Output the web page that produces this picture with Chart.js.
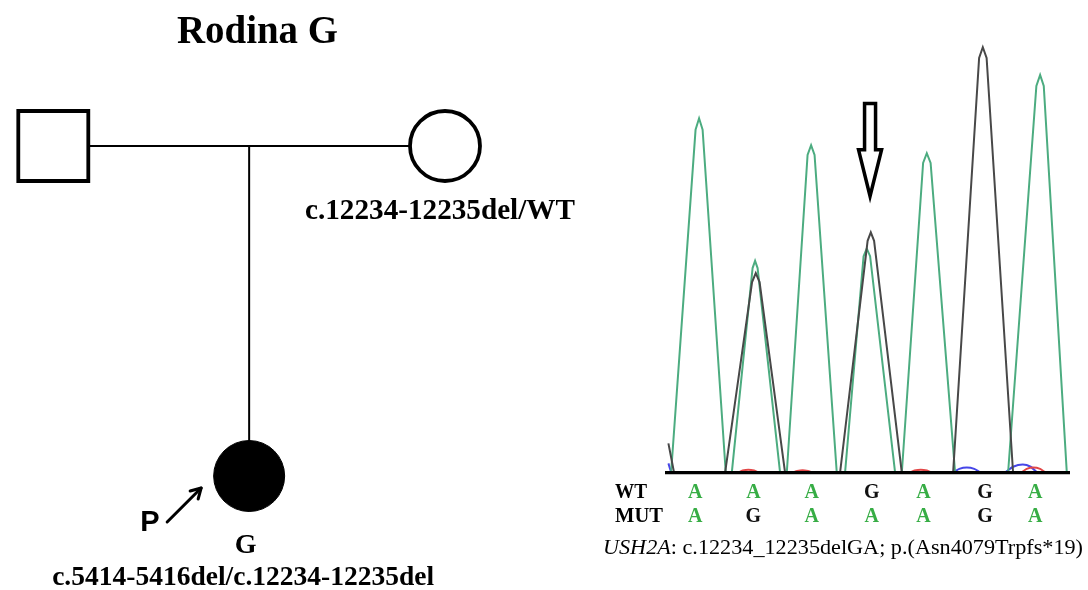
<!DOCTYPE html>
<html><head><meta charset="utf-8">
<script src="https://cdn.jsdelivr.net/npm/chart.js@4.4.1/dist/chart.umd.min.js"></script>
<style>
html,body{margin:0;padding:0;background:#fff;width:1088px;height:590px;overflow:hidden}
#ped{position:absolute;left:0;top:0}
#chr{position:absolute;left:600px;top:0}
</style></head><body>
<canvas id="ped" width="600" height="590"></canvas>
<canvas id="chr" width="488" height="590"></canvas>
<script>
// ---------------- Pedigree data ----------------
const pedTitle = 'Rodina G';
const pedNames = ['father', 'mother', 'proband'];
const pedX = [0, 2, 1];          // position within generation
const pedGen = [1, 1, 2];        // generation
const pedSex = ['M', 'F', 'F'];
const pedAffected = [false, false, true];
const mateLine = [[0, 1], [2, 1]];
const descentLine = [[1, 1], [1, 2]];
const motherGenotype = 'c.12234-12235del/WT';
const probandId = 'G';
const probandGenotype = 'c.5414-5416del/c.12234-12235del';
const probandMarker = 'P';

// ---------------- Chromatogram data ----------------
// x = base position (1..7), y = signal intensity
const traceA = [[0.40,0],[0.507,0],[0.938,806],[1.000,833],[1.062,806],[1.470,0],[1.576,0],[1.942,481],[1.986,498],[2.030,481],[2.426,0],[2.544,0],[2.910,747],[2.972,770],[3.033,747],[3.424,0],[3.570,0],[3.896,509],[3.952,527],[4.011,509],[4.451,0],[4.569,0],[4.944,728],[5.009,751],[5.076,728],[5.507,0],[6.440,0],[6.938,909],[7.004,935],[7.068,909],[7.474,0],[7.53,0]];
const traceG = [[0.46,69],[0.560,0],[1.458,0],[1.933,448],[1.998,469],[2.065,448],[2.514,0],[3.482,0],[3.967,545],[4.023,565],[4.081,545],[4.569,0],[5.472,0],[5.930,975],[5.995,1000],[6.062,975],[6.528,0],[7.53,0]];
const traceT = [[0.40,0],[1.664,0],[1.766,5],[1.868,7],[1.970,5],[2.074,0],[2.632,0],[2.727,4],[2.822,6],[2.917,4],[3.012,0],[4.680,0],[4.792,5],[4.903,7],[5.012,5],[5.120,0],[6.651,0],[6.768,9],[6.886,12],[7.004,9],[7.121,0],[7.53,0]];
const traceC = [[0.46,22],[0.52,0],[5.449,0],[5.581,9],[5.713,12],[5.845,9],[5.977,0],[6.357,0],[6.528,14],[6.699,19],[6.837,14],[6.974,0],[7.53,0]];
const callPos = [0.93, 1.956, 2.984, 4.04, 4.949, 6.035, 6.919];
const wtCalls = ['A','A','A','G','A','G','A'];
const mutCalls = ['A','G','A','A','A','G','A'];
const captionGene = 'USH2A';
const captionRest = ': c.12234_12235delGA; p.(Asn4079Trpfs*19)';
const arrowMark = {x: 4.01, top: 868, neck: 759, tip: 650};

const toXY = arr => arr.map(p => ({x: p[0], y: p[1]}));

function fillFit(ctx, text, x, y, width, align) {
  const w = ctx.measureText(text).width;
  const s = width / w;
  ctx.save();
  ctx.translate(x, y);
  ctx.scale(s, 1);
  ctx.textAlign = 'left';
  ctx.fillText(text, align === 'center' ? -w / 2 : 0, 0);
  ctx.restore();
}

// ---------------- Pedigree chart ----------------
const pedText = {
  id: 'pedText',
  afterDraw(chart) {
    const ctx = chart.ctx, xs = chart.scales.x, ys = chart.scales.y;
    const mx = xs.getPixelForValue(pedX[1]), my = ys.getPixelForValue(pedGen[1]);
    const cx = xs.getPixelForValue(pedX[2]), cy = ys.getPixelForValue(pedGen[2]);
    ctx.save();
    ctx.fillStyle = '#000';
    ctx.textBaseline = 'alphabetic';
    ctx.font = 'bold 39px "Liberation Serif"';
    fillFit(ctx, pedTitle, 257.5, 43, 161, 'center');
    ctx.font = 'bold 29px "Liberation Serif"';
    fillFit(ctx, motherGenotype, mx - 140, my + 73, 270, 'left');
    ctx.font = 'bold 28px "Liberation Serif"';
    ctx.textAlign = 'center';
    ctx.fillText(probandId, cx - 3.5, cy + 77);
    fillFit(ctx, probandGenotype, cx - 197, cy + 109, 382, 'left');
    ctx.font = 'bold 29px "Liberation Sans"';
    ctx.textAlign = 'left';
    ctx.fillText(probandMarker, cx - 109, cy + 55);
    // proband arrow
    const x0 = cx - 82, y0 = cy + 46, x1 = cx - 48, y1 = cy + 12;
    ctx.strokeStyle = '#000';
    ctx.lineWidth = 3;
    ctx.lineCap = 'round';
    ctx.lineJoin = 'round';
    ctx.beginPath(); ctx.moveTo(x0, y0); ctx.lineTo(x1, y1); ctx.stroke();
    ctx.beginPath();
    ctx.moveTo(x1 - 11, y1 + 3); ctx.lineTo(x1, y1); ctx.lineTo(x1 - 3, y1 + 11);
    ctx.stroke();
    ctx.restore();
  }
};

new Chart(document.getElementById('ped'), {
  type: 'scatter',
  data: {
    datasets: [
      {
        label: 'individuals',
        data: pedX.map((x, i) => ({x: x, y: pedGen[i]})),
        pointStyle: pedSex.map(s => s === 'M' ? 'rect' : 'circle'),
        pointRadius: pedSex.map((s, i) => s === 'M' ? 49.5 : (pedAffected[i] ? 35.5 : 35)),
        pointBorderWidth: pedAffected.map(a => a ? 1 : 3.8),
        pointBorderColor: '#000',
        pointBackgroundColor: pedAffected.map(a => a ? '#000' : '#fff'),
        clip: false,
        order: 0
      },
      {
        label: 'mating', data: toXY(mateLine), showLine: true,
        borderColor: '#000', borderWidth: 2, pointRadius: 0, clip: false, order: 1
      },
      {
        label: 'descent', data: toXY(descentLine), showLine: true,
        borderColor: '#000', borderWidth: 2, pointRadius: 0, clip: false, order: 1
      }
    ]
  },
  options: {
    responsive: false, animation: false, events: [],
    layout: {padding: {left: 47, right: 155, top: 146, bottom: 114}},
    scales: {
      x: {type: 'linear', min: 0, max: 2, display: false},
      y: {type: 'linear', min: 1, max: 2, reverse: true, display: false}
    },
    plugins: {legend: {display: false}, tooltip: {enabled: false}}
  },
  plugins: [pedText]
});

// ---------------- Chromatogram chart ----------------
const chromDecor = {
  id: 'chromDecor',
  afterDatasetsDraw(chart) {
    const ctx = chart.ctx, xs = chart.scales.x, ys = chart.scales.y;
    const y0 = ys.getPixelForValue(0);
    ctx.save();
    ctx.strokeStyle = '#000';
    ctx.lineWidth = 3.2;
    ctx.beginPath();
    ctx.moveTo(xs.getPixelForValue(xs.min), y0);
    ctx.lineTo(xs.getPixelForValue(xs.max), y0);
    ctx.stroke();
    ctx.restore();
  },
  afterDraw(chart) {
    const ctx = chart.ctx, xs = chart.scales.x, ys = chart.scales.y;
    // arrow
    const ax = xs.getPixelForValue(arrowMark.x);
    const at = ys.getPixelForValue(arrowMark.top);
    const an = ys.getPixelForValue(arrowMark.neck);
    const ap = ys.getPixelForValue(arrowMark.tip);
    ctx.save();
    ctx.strokeStyle = '#000';
    ctx.lineWidth = 3.5;
    ctx.lineJoin = 'miter';
    ctx.beginPath();
    ctx.moveTo(ax - 5.5, at); ctx.lineTo(ax + 5.5, at); ctx.lineTo(ax + 5.5, an);
    ctx.lineTo(ax + 11.5, an); ctx.lineTo(ax, ap); ctx.lineTo(ax - 11.5, an);
    ctx.lineTo(ax - 5.5, an); ctx.closePath();
    ctx.stroke();
    // base call rows
    ctx.textBaseline = 'alphabetic';
    ctx.fillStyle = '#000';
    ctx.font = 'bold 20px "Liberation Serif"';
    fillFit(ctx, 'WT', 15, 497.5, 32, 'left');
    fillFit(ctx, 'MUT', 15, 521.5, 48, 'left');
    ctx.textAlign = 'center';
    for (let i = 0; i < callPos.length; i++) {
      const px = xs.getPixelForValue(callPos[i]);
      ctx.fillStyle = wtCalls[i] === 'A' ? '#37ad45' : '#111';
      ctx.fillText(wtCalls[i], px, 497.5);
      ctx.fillStyle = mutCalls[i] === 'A' ? '#37ad45' : '#111';
      ctx.fillText(mutCalls[i], px, 521.5);
    }
    // caption
    ctx.fillStyle = '#000';
    ctx.textAlign = 'left';
    ctx.font = 'italic 21px "Liberation Serif"';
    const w1 = ctx.measureText(captionGene).width;
    ctx.font = '21px "Liberation Serif"';
    const w2 = ctx.measureText(captionRest).width;
    const s = 480 / (w1 + w2);
    ctx.translate(3, 554);
    ctx.scale(s, 1);
    ctx.font = 'italic 21px "Liberation Serif"';
    ctx.fillText(captionGene, 0, 0);
    ctx.font = '21px "Liberation Serif"';
    ctx.fillText(captionRest, w1, 0);
    ctx.restore();
  }
};

new Chart(document.getElementById('chr'), {
  type: 'line',
  data: {
    datasets: [
      {label: 'A', data: toXY(traceA), borderColor: 'rgb(76,172,128)', borderWidth: 2, pointRadius: 0, tension: 0, order: 3},
      {label: 'G', data: toXY(traceG), borderColor: 'rgb(72,72,72)', borderWidth: 2, pointRadius: 0, tension: 0, order: 2},
      {label: 'T', data: toXY(traceT), borderColor: 'rgb(226,70,70)', borderWidth: 2, pointRadius: 0, cubicInterpolationMode: 'monotone', order: 4},
      {label: 'C', data: toXY(traceC), borderColor: 'rgb(70,70,232)', borderWidth: 2, pointRadius: 0, cubicInterpolationMode: 'monotone', order: 4}
    ]
  },
  options: {
    responsive: false, animation: false, events: [],
    layout: {padding: {left: 65, right: 18, top: 26, bottom: 117.3}},
    scales: {
      x: {type: 'linear', min: 0.40, max: 7.53, display: false},
      y: {type: 'linear', min: 0, max: 1050, display: false}
    },
    plugins: {legend: {display: false}, tooltip: {enabled: false}}
  },
  plugins: [chromDecor]
});
</script></body></html>
